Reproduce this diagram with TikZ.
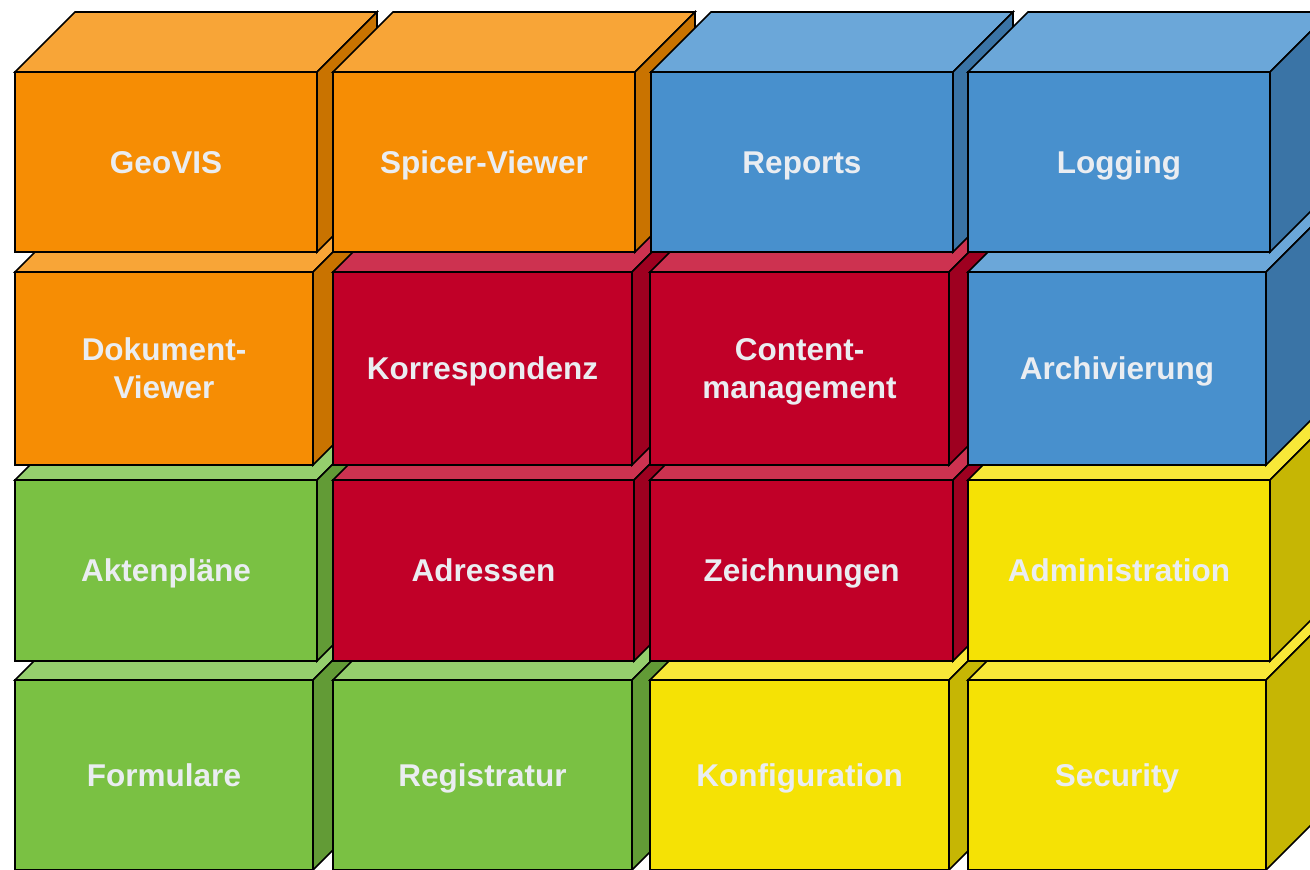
\documentclass[tikz,border=0pt]{standalone}
\usepackage{fontspec}
\setmainfont{Liberation Sans}
\usepackage{xcolor}
\definecolor{orF}{RGB}{246,141,4}\definecolor{orT}{RGB}{248,165,55}\definecolor{orS}{RGB}{201,115,0}
\definecolor{blF}{RGB}{72,144,205}\definecolor{blT}{RGB}{107,167,217}\definecolor{blS}{RGB}{58,116,166}
\definecolor{rdF}{RGB}{193,0,40}\definecolor{rdT}{RGB}{205,50,80}\definecolor{rdS}{RGB}{158,0,32}
\definecolor{grF}{RGB}{122,193,67}\definecolor{grT}{RGB}{149,207,109}\definecolor{grS}{RGB}{98,155,54}
\definecolor{yeF}{RGB}{245,226,5}\definecolor{yeT}{RGB}{248,232,56}\definecolor{yeS}{RGB}{198,182,4}
\definecolor{txt}{RGB}{234,237,241}
\tikzset{face/.style={draw=black,line width=1.6pt,line join=miter,anchor=north west,outer sep=0pt,
  align=center,text=txt,font=\fontsize{31.5}{38}\selectfont\bfseries},
  oneline/.style={text height=22.6pt,text depth=0pt},
  twoline/.style={text depth=0pt}}
\newcommand\cube[8][oneline]{%
\filldraw[face,fill=#7T] (#3,#4)--++(60,-60)--++(#5,0)--++(-60,60)--cycle;
\filldraw[face,fill=#7S] (#3+#5,#4)--++(60,-60)--++(0,#6)--++(-60,60)--cycle;
\node[face,#1,fill=#7F,minimum width=#5pt,minimum height=#6pt] (#2) at (#3,#4) {#8};}

\begin{document}
\begin{tikzpicture}[x=1pt,y=-1pt]
\useasboundingbox (0,0) rectangle (1310,870);
\clip (0,0) rectangle (1310,870);
\cube{formulare}{15}{680}{298}{190}{gr}{Formulare}
\cube{registratur}{333}{680}{299}{190}{gr}{Registratur}
\cube{konfig}{650}{680}{299}{190}{ye}{Konfiguration}
\cube{security}{968}{680}{298}{190}{ye}{Security}
\cube{akten}{15}{480}{302}{181}{gr}{Aktenpläne}
\cube{adressen}{333}{480}{301}{181}{rd}{Adressen}
\cube{zeichn}{650}{480}{303}{181}{rd}{Zeichnungen}
\cube{admin}{968}{480}{302}{181}{ye}{Administration}
\cube[twoline]{dokviewer}{15}{272}{298}{193}{or}{Dokument-\\Viewer}
\cube{korresp}{333}{272}{299}{193}{rd}{Korrespondenz}
\cube[twoline]{content}{650}{272}{299}{193}{rd}{Content-\\management}
\cube{archiv}{968}{272}{298}{193}{bl}{Archivierung}
\cube{geovis}{15}{72}{302}{180}{or}{GeoVIS}
\cube{spicer}{333}{72}{302}{180}{or}{Spicer-Viewer}
\cube{reports}{651}{72}{302}{180}{bl}{Reports}
\cube{logging}{968}{72}{302}{180}{bl}{Logging}
\end{tikzpicture}
\end{document}
